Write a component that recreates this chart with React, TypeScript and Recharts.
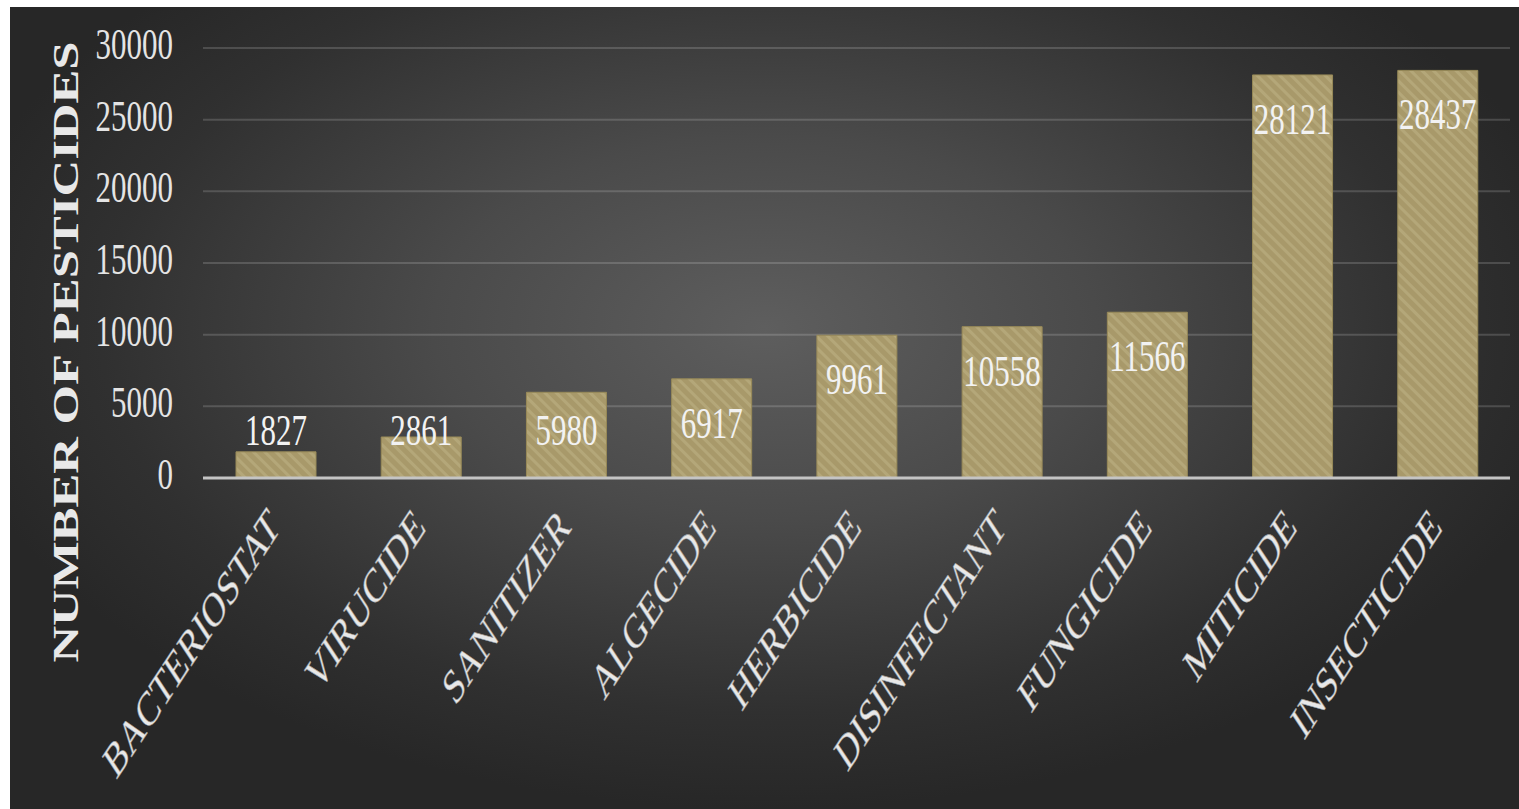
import { Bar, BarChart, CartesianGrid, LabelList, XAxis, YAxis } from "recharts";

const categories = [
  "BACTERIOSTAT",
  "VIRUCIDE",
  "SANITIZER",
  "ALGECIDE",
  "HERBICIDE",
  "DISINFECTANT",
  "FUNGICIDE",
  "MITICIDE",
  "INSECTICIDE",
];
const counts = [1827, 2861, 5980, 6917, 9961, 10558, 11566, 28121, 28437];
const yTicks = [0, 5000, 10000, 15000, 20000, 25000, 30000];
const yTitle = "NUMBER OF PESTICIDES";

const data = categories.map((name, i) => ({ name, value: counts[i] }));

const FONT = '"Liberation Serif", "Times New Roman", serif';
const STRETCH = 1.45; // the source image is stretched vertically

function YTick(props: any) {
  const { x, y, payload } = props;
  return (
    <text
      transform={`translate(${x - 22}, ${y + 11}) scale(1, ${STRETCH})`}
      textAnchor="end"
      fontFamily={FONT}
      fontSize={31}
      fill="#e4e4e4"
    >
      {payload.value}
    </text>
  );
}

function XTick(props: any) {
  const { x, y, payload } = props;
  return (
    <text
      transform={`translate(${x + 6}, ${y + 43}) scale(1, 1.52) rotate(-45)`}
      textAnchor="end"
      fontFamily={FONT}
      fontSize={32}
      fill="#e8e8e8"
      stroke="#9a9a9a"
      strokeWidth={0.4}
    >
      {payload.value}
    </text>
  );
}

function ValueLabel(props: any) {
  const { x, y, width, height, value } = props;
  const bottom = y + height;
  const cy = Math.min(y + 44, bottom - 48);
  return (
    <text
      transform={`translate(${x + width / 2}, ${cy + 15}) scale(1, ${STRETCH})`}
      textAnchor="middle"
      fontFamily={FONT}
      fontSize={31}
      fill="#f2f2f2"
    >
      {value}
    </text>
  );
}

function YTitle() {
  return (
    <text
      transform={`translate(68, 345) scale(1, ${STRETCH}) rotate(-90)`}
      textAnchor="middle"
      fontFamily={FONT}
      fontWeight="bold"
      fontSize={35}
      fill="#e8e8e8"
    >
      {yTitle}
    </text>
  );
}

export default function App() {
  return (
    <div
      style={{
        position: "absolute",
        left: 0,
        top: 0,
        width: 1519,
        height: 809,
        background: "#ffffff",
        overflow: "hidden",
      }}
    >
      <div
        style={{
          position: "absolute",
          left: 10,
          top: 7,
          width: 1509,
          height: 802,
          background:
            "radial-gradient(ellipse 55% 60% at 50% 40%, #5e5e5e 0%, #4a4a4a 40%, #303030 80%, #272727 100%)",
        }}
      >
        <BarChart
          width={1509}
          height={802}
          data={data}
          margin={{ top: 41, right: 9, bottom: 0, left: 0 }}
          barSize={80}
        >
          <defs>
            <pattern
              id="hatch"
              width="8"
              height="8"
              patternUnits="userSpaceOnUse"
              patternTransform="rotate(-45)"
            >
              <rect width="8" height="8" fill="#a8996a" />
              <rect width="3" height="8" fill="#b4a779" />
            </pattern>
          </defs>
          <CartesianGrid
            vertical={false}
            stroke="rgba(255,255,255,0.16)"
            strokeWidth={2}
          />
          <XAxis
            dataKey="name"
            height={331}
            interval={0}
            tickLine={false}
            axisLine={{ stroke: "#c4c4c4", strokeWidth: 3 }}
            tick={<XTick />}
          />
          <YAxis
            width={193}
            domain={[0, 30000]}
            ticks={yTicks}
            axisLine={false}
            tickLine={false}
            tick={<YTick />}
            label={{ content: () => <YTitle /> }}
          />
          <Bar
            dataKey="value"
            fill="url(#hatch)"
            stroke="#988a58"
            strokeWidth={1}
            isAnimationActive={false}
          >
            <LabelList dataKey="value" content={<ValueLabel />} />
          </Bar>
        </BarChart>
      </div>
    </div>
  );
}
